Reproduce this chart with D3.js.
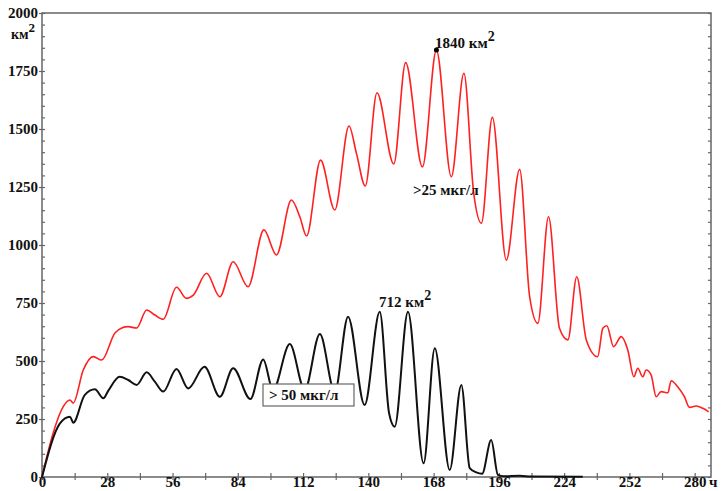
<!DOCTYPE html>
<html>
<head>
<meta charset="utf-8">
<script src="https://cdn.jsdelivr.net/npm/d3@7"></script>
<style>
  body { margin: 0; background: #fff; }
</style>
</head>
<body>
<div id="chart"></div>
<script>
// hours and area (km2) for > 25 mkg/l
var redHours = [0, 4.8, 9.1, 12.0, 13.4, 17.7, 22.0, 25.6, 31.3, 34.2, 37.0, 40.6, 44.9, 48.4, 52.0,
  57.7, 62.0, 64.9, 70.6, 76.3, 82.0, 88.4, 95.2, 100.6, 107.0, 110.6, 113.5, 119.5, 125.6,
  131.7, 134.9, 138.7, 143.7, 150.9, 156.0, 163.2, 169.2, 175.6, 181.0, 185.2, 188.5, 193.2,
  199.2, 204.9, 209.2, 212.7, 217.3, 222.0, 225.6, 229.4, 233.5, 238.4, 240.6, 242.3, 245.2,
  248.5, 251.3, 253.9, 255.6, 257.7, 259.2, 261.3, 263.5, 265.6, 268.5, 269.9, 272.7, 275.6,
  277.8, 280.6, 283.5, 286.0];
var redValues = [0, 190, 303, 332, 319, 461, 519, 504, 621, 642, 648, 642, 720, 698, 680,
  818, 770, 784, 878, 777, 928, 820, 1065, 957, 1194, 1122, 1039, 1366, 1151,
  1513, 1395, 1254, 1656, 1349, 1786, 1337, 1840, 1294, 1740, 1224, 1094, 1550,
  935, 1326, 777, 662, 1122, 641, 591, 863, 591, 519, 641, 652, 562,
  605, 547, 432, 469, 432, 461, 440, 346, 368, 363, 415, 389, 346,
  300, 306, 296, 281];

// hours and area (km2) for > 50 mkg/l
var blackHours = [0, 7.7, 12.0, 13.4, 18.3, 22.7, 26.3, 28.4, 33.3, 37.0, 40.6, 44.9, 48.4, 52.0,
  57.7, 62.7, 69.7, 76.3, 82.0, 89.4, 94.9, 99.1, 106.3, 112.7, 119.2, 125.6, 131.3, 138.4,
  144.9, 148.9, 151.3, 157.0, 163.7, 168.5, 174.9, 179.9, 183.5, 186.3, 188.8, 192.7, 195.6,
  198, 204.9, 210, 232];
var blackValues = [0, 231, 260, 234, 353, 378, 339, 371, 432, 418, 397, 451, 411, 368,
  466, 382, 475, 346, 469, 336, 507, 375, 573, 375, 616, 366, 691, 310,
  712, 275, 217, 712, 59, 555, 30, 397, 38, 20, 14, 159, 9,
  3, 5, 2, 1];

var xTicks = [0, 28, 56, 84, 112, 140, 168, 196, 224, 252, 280];
var yTicks = [0, 250, 500, 750, 1000, 1250, 1500, 1750, 2000];

var width = 721, height = 491;
var axisColor = "#666";
var fontFamily = "'Liberation Serif', 'Times New Roman', 'DejaVu Serif', serif";

var svg = d3.select("#chart").append("svg")
  .attr("width", width)
  .attr("height", height)
  .attr("font-family", fontFamily)
  .attr("font-weight", "bold");

var x = d3.scaleLinear().domain([0, 287]).range([42, 711]);
var y = d3.scaleLinear().domain([0, 2000]).range([477, 13]);

// frame
svg.append("rect")
  .attr("x", x(0)).attr("y", y(2000))
  .attr("width", x(287) - x(0)).attr("height", y(0) - y(2000))
  .attr("fill", "none").attr("stroke", axisColor).attr("stroke-width", 1.5);

// minor ticks every 50 on left (inside) and right (inside)
var minorY = d3.range(0, 2001, 50);
svg.append("g")
  .attr("transform", `translate(${x(0)},0)`)
  .call(d3.axisRight(y).tickValues(minorY).tickSize(3).tickFormat(""))
  .call(g => g.select(".domain").remove());
svg.append("g")
  .attr("transform", `translate(${x(287)},0)`)
  .call(d3.axisLeft(y).tickValues(minorY).tickSize(3).tickFormat(""))
  .call(g => g.select(".domain").remove());

// left axis with labels
var leftAxis = svg.append("g")
  .attr("transform", `translate(${x(0)},0)`)
  .call(d3.axisLeft(y).tickValues(yTicks).tickSize(3).tickPadding(1).tickFormat(d3.format("d")));
leftAxis.select(".domain").remove();
leftAxis.attr("font-family", fontFamily);
leftAxis.selectAll("text").attr("font-size", 15).attr("fill", "#111").attr("font-weight", "bold");

// bottom axis ticks every 14, crossing the axis line
var minorX = d3.range(0, 281, 14);
svg.append("g")
  .attr("transform", `translate(0,${y(0)})`)
  .call(d3.axisTop(x).tickValues(minorX).tickSize(4).tickFormat(""))
  .call(g => g.select(".domain").remove());
var bottomAxis = svg.append("g")
  .attr("transform", `translate(0,${y(0)})`)
  .call(d3.axisBottom(x).tickValues(minorX).tickSize(3)
    .tickFormat(d => xTicks.indexOf(d) >= 0 ? d : ""));
bottomAxis.select(".domain").remove();
bottomAxis.attr("font-family", fontFamily);
bottomAxis.selectAll("text").attr("font-size", 15).attr("fill", "#111").attr("font-weight", "bold")
  .attr("y", 0).attr("dy", "0.68em");

svg.selectAll(".tick line").attr("stroke", axisColor).attr("stroke-width", 1.2);

// units
svg.append("text").attr("x", 11).attr("y", 39).attr("font-size", 14).attr("fill", "#111")
  .text("км").append("tspan").attr("dy", -7).attr("font-size", 13).text("2");
svg.append("text").attr("x", 709).attr("y", 487).attr("font-size", 15).attr("fill", "#111").text("ч");

// curves
var line = d3.line().curve(d3.curveMonotoneX);

var redData = redHours.map((h, i) => [x(h), y(redValues[i])]);
var blackData = blackHours.map((h, i) => [x(h), y(blackValues[i])]);

svg.append("path")
  .attr("d", line(redData))
  .attr("fill", "none").attr("stroke", "#ff2020").attr("stroke-width", 1.6);

svg.append("path")
  .attr("d", line(blackData))
  .attr("fill", "none").attr("stroke", "#111").attr("stroke-width", 2);

// peak annotations
svg.append("circle").attr("cx", x(169.2)).attr("cy", y(1840)).attr("r", 2.5).attr("fill", "#000");
svg.append("text").attr("x", 435).attr("y", 48).attr("font-size", 15).attr("fill", "#111")
  .text("1840 км").append("tspan").attr("dy", -7).attr("font-size", 14).text("2");

svg.append("text").attr("x", 379).attr("y", 307).attr("font-size", 15).attr("fill", "#111")
  .text("712 км").append("tspan").attr("dy", -7).attr("font-size", 14).text("2");

svg.append("text").attr("x", 413).attr("y", 195).attr("font-size", 15).attr("fill", "#111")
  .text(">25 мкг/л");

// boxed label
svg.append("rect").attr("x", 263).attr("y", 384).attr("width", 91).attr("height", 22)
  .attr("fill", "#fff").attr("stroke", axisColor).attr("stroke-width", 1.2);
svg.append("text").attr("x", 269).attr("y", 400).attr("font-size", 15).attr("fill", "#111")
  .text("> 50 мкг/л");
</script>
</body>
</html>
